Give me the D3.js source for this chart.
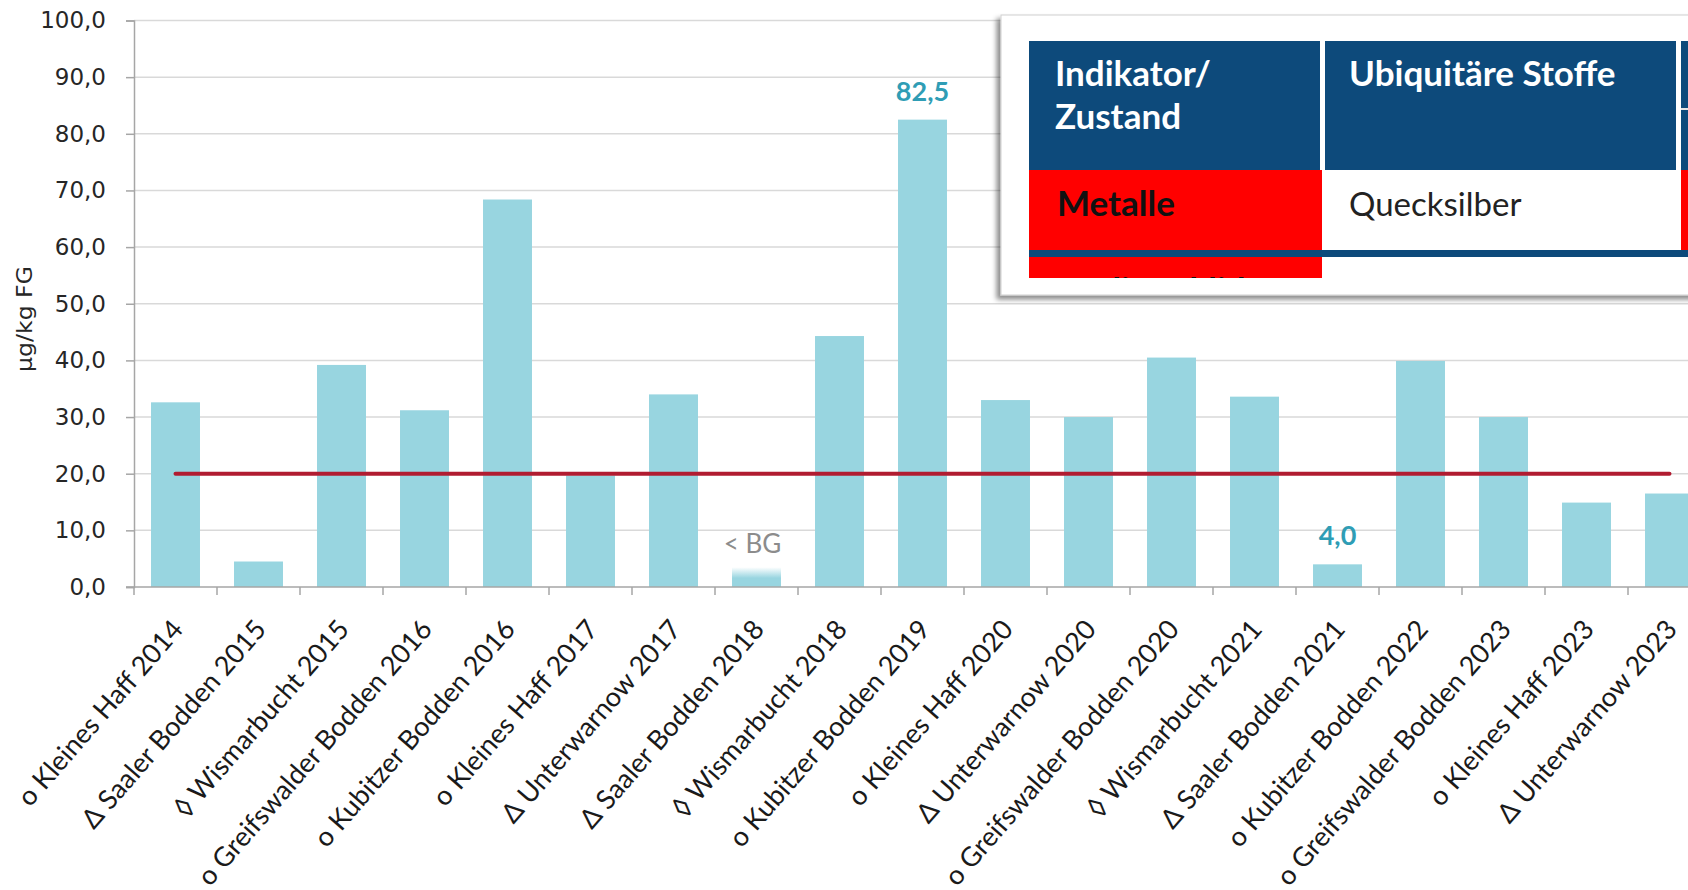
<!DOCTYPE html>
<html>
<head>
<meta charset="utf-8">
<script src="https://cdn.jsdelivr.net/npm/d3@7"></script>
<style>
  body { margin: 0; background: #fff; overflow: hidden; }
  svg { display: block; }
</style>
</head>
<body>
<svg width="1688" height="890"></svg>
<script>
// chart data
var categories = [
  "o Kleines Haff 2014", "\u0394 Saaler Bodden 2015", "\u25CA Wismarbucht 2015",
  "o Greifswalder Bodden 2016", "o Kubitzer Bodden 2016", "o Kleines Haff 2017",
  "\u0394 Unterwarnow 2017", "\u0394 Saaler Bodden 2018", "\u25CA Wismarbucht 2018",
  "o Kubitzer Bodden 2019", "o Kleines Haff 2020", "\u0394 Unterwarnow 2020",
  "o Greifswalder Bodden 2020", "\u25CA Wismarbucht 2021", "\u0394 Saaler Bodden 2021",
  "o Kubitzer Bodden 2022", "o Greifswalder Bodden 2023", "o Kleines Haff 2023",
  "\u0394 Unterwarnow 2023"
];
var values = [32.6, 4.5, 39.2, 31.2, 68.4, 19.7, 34.0, 3.5, 44.3, 82.5,
              33.0, 30.0, 40.5, 33.6, 4.0, 39.9, 30.0, 14.9, 16.5];
var belowBG = [false, false, false, false, false, false, false, true, false, false,
               false, false, false, false, false, false, false, false, false];
var dataLabels = ["", "", "", "", "", "", "", "< BG", "", "82,5",
                  "", "", "", "", "4,0", "", "", "", ""];
var threshold = 20;
var yTicks = [0, 10, 20, 30, 40, 50, 60, 70, 80, 90, 100];
var yTitle = "\u00B5g/kg FG";

// pasted table snippet
var tableHead = [["Indikator/", "Zustand"], ["Ubiquit\u00E4re Stoffe"]];
var tableRow = ["Metalle", "Quecksilber"];
var tableNextRow = ["Radionuklide", "C\u00E4sium-137"];

var svg = d3.select("svg");
var de = d3.formatLocale({decimal: ",", thousands: ".", grouping: [3], currency: ["", " \u20AC"]});
var fmt = de.format(".1f");

var barColor = "#98d5e0";

var x = d3.scaleBand()
    .domain(categories)
    .range([134, 134 + 19 * 83])
    .paddingInner(0.41)
    .paddingOuter(0.205);

var y = d3.scaleLinear()
    .domain([0, 100])
    .range([587, 20.5]);

var defs = svg.append("defs");
var grad = defs.append("linearGradient")
    .attr("id", "bgFade").attr("x1", 0).attr("x2", 0).attr("y1", 0).attr("y2", 1);
grad.append("stop").attr("offset", "0%").attr("stop-color", barColor).attr("stop-opacity", 0);
grad.append("stop").attr("offset", "55%").attr("stop-color", barColor).attr("stop-opacity", 1);
grad.append("stop").attr("offset", "100%").attr("stop-color", barColor).attr("stop-opacity", 1);

var shadow = defs.append("filter").attr("id", "shadow")
    .attr("x", "-10%").attr("y", "-10%").attr("width", "120%").attr("height", "130%");
shadow.append("feDropShadow").attr("dx", -4).attr("dy", 4).attr("stdDeviation", 2.5)
    .attr("flood-color", "#000").attr("flood-opacity", 0.45);

defs.append("clipPath").attr("id", "rowClip")
  .append("rect").attr("x", 1000).attr("y", 257).attr("width", 700).attr("height", 21);

// gridlines
svg.append("g")
  .selectAll("line")
  .data(yTicks.slice(1))
  .enter().append("line")
    .attr("x1", 134).attr("x2", 1688)
    .attr("y1", function(d) { return y(d); })
    .attr("y2", function(d) { return y(d); })
    .attr("stroke", "#d9d9d9")
    .attr("stroke-width", 1.5);

// y axis
var yAxis = svg.append("g")
    .attr("transform", "translate(134,0)")
    .call(d3.axisLeft(y).tickValues(yTicks).tickFormat(fmt).tickSize(8).tickPadding(20));
yAxis.select(".domain").attr("stroke", "#a6a6a6").attr("stroke-width", 1.5);
yAxis.selectAll(".tick line").attr("stroke", "#a6a6a6").attr("stroke-width", 1.5);
yAxis.selectAll("text")
    .attr("font-family", "DejaVu Sans")
    .attr("font-size", 23)
    .attr("fill", "#262626");

svg.append("text")
    .attr("transform", "translate(32,319) scale(1,1.15) rotate(-90)")
    .attr("text-anchor", "middle")
    .attr("font-family", "DejaVu Sans")
    .attr("font-size", 20.5)
    .attr("fill", "#262626")
    .text(yTitle);

// bars
svg.append("g")
  .selectAll("rect")
  .data(values)
  .enter().append("rect")
    .attr("x", function(d, i) { return x(categories[i]); })
    .attr("y", function(d) { return y(d); })
    .attr("width", x.bandwidth())
    .attr("height", function(d) { return y(0) - y(d); })
    .attr("fill", function(d, i) { return belowBG[i] ? "url(#bgFade)" : barColor; });

// x axis line + ticks at band boundaries
svg.append("line")
    .attr("x1", 126).attr("x2", 1688)
    .attr("y1", y(0)).attr("y2", y(0))
    .attr("stroke", "#a6a6a6").attr("stroke-width", 1.5);
svg.append("g")
  .selectAll("line")
  .data(d3.range(categories.length + 1))
  .enter().append("line")
    .attr("x1", function(i) { return x.range()[0] + i * x.step(); })
    .attr("x2", function(i) { return x.range()[0] + i * x.step(); })
    .attr("y1", y(0)).attr("y2", y(0) + 8)
    .attr("stroke", "#a6a6a6").attr("stroke-width", 1.5);

// x labels
svg.append("g")
  .selectAll("text")
  .data(categories)
  .enter().append("text")
    .attr("transform", function(d) {
      return "translate(" + (x(d) + x.bandwidth() / 2 + 2) + "," + (y(0) + 37) + ") rotate(-49)";
    })
    .attr("text-anchor", "end")
    .attr("dy", "0.35em")
    .attr("font-family", "Lato")
    .attr("font-size", 27)
    .attr("fill", "#1a1a1a")
    .text(function(d) { return d; });

// threshold line
svg.append("line")
    .attr("x1", x(categories[0]) + x.bandwidth() / 2)
    .attr("x2", x(categories[categories.length - 1]) + x.bandwidth() / 2)
    .attr("y1", y(threshold)).attr("y2", y(threshold))
    .attr("stroke", "#b11c31")
    .attr("stroke-width", 4)
    .attr("stroke-linecap", "round");

// data labels
var labelled = d3.range(values.length).filter(function(i) { return dataLabels[i] !== ""; });
svg.append("g")
  .selectAll("text")
  .data(labelled)
  .enter().append("text")
    .attr("x", function(i) { return x(categories[i]) + x.bandwidth() / 2 - (belowBG[i] ? 4 : 0); })
    .attr("y", function(i) { return y(values[i]) - (belowBG[i] ? 14 : 19); })
    .attr("text-anchor", "middle")
    .attr("font-family", "Lato")
    .attr("font-size", function(i) { return belowBG[i] ? 26 : 27; })
    .attr("font-weight", function(i) { return belowBG[i] ? "normal" : "bold"; })
    .attr("fill", function(i) { return belowBG[i] ? "#8c8c8c" : "#2f9db5"; })
    .text(function(i) { return dataLabels[i]; });

// inset table picture
var inset = svg.append("g");
inset.append("rect")
    .attr("x", 1001).attr("y", 15).attr("width", 720).attr("height", 280)
    .attr("fill", "#fff").attr("stroke", "#cfcfcf").attr("stroke-width", 1)
    .attr("filter", "url(#shadow)");

var navy = "#0d4a7b";
inset.append("rect").attr("x", 1029).attr("y", 41).attr("width", 291).attr("height", 129).attr("fill", navy);
inset.append("rect").attr("x", 1325).attr("y", 41).attr("width", 351).attr("height", 129).attr("fill", navy);
inset.append("rect").attr("x", 1681).attr("y", 41).attr("width", 40).attr("height", 129).attr("fill", navy);
inset.append("line").attr("x1", 1681).attr("x2", 1721).attr("y1", 109).attr("y2", 109)
    .attr("stroke", "#e6e6e6").attr("stroke-width", 2);

inset.append("rect").attr("x", 1029).attr("y", 170).attr("width", 293).attr("height", 80).attr("fill", "#ff0000");
inset.append("rect").attr("x", 1681).attr("y", 170).attr("width", 40).attr("height", 80).attr("fill", "#ff0000");
inset.append("rect").attr("x", 1029).attr("y", 250).attr("width", 700).attr("height", 7).attr("fill", navy);
inset.append("rect").attr("x", 1029).attr("y", 257).attr("width", 293).attr("height", 21).attr("fill", "#ff0000");

inset.append("g")
  .selectAll("text")
  .data(tableHead[0])
  .enter().append("text")
    .attr("x", 1055)
    .attr("y", function(d, i) { return 86 + i * 43; })
    .attr("font-family", "Lato").attr("font-weight", "bold").attr("font-size", 35)
    .attr("fill", "#fff")
    .text(function(d) { return d; });
inset.append("text")
    .attr("x", 1349).attr("y", 86)
    .attr("font-family", "Lato").attr("font-weight", "bold").attr("font-size", 35)
    .attr("fill", "#fff")
    .text(tableHead[1][0]);

inset.append("text")
    .attr("x", 1057).attr("y", 216)
    .attr("font-family", "Lato").attr("font-weight", "bold").attr("font-size", 35)
    .attr("fill", "#111")
    .text(tableRow[0]);
inset.append("text")
    .attr("x", 1349).attr("y", 216)
    .attr("font-family", "Lato").attr("font-size", 33)
    .attr("fill", "#222")
    .text(tableRow[1]);

// next table row is cut by the picture edge, only glyph tops show
var cut = inset.append("g").attr("clip-path", "url(#rowClip)");
cut.append("text")
    .attr("x", 1061).attr("y", 303)
    .attr("font-family", "Lato").attr("font-weight", "bold").attr("font-size", 35)
    .attr("fill", "#111")
    .text(tableNextRow[0]);
cut.append("text")
    .attr("x", 1351).attr("y", 303)
    .attr("font-family", "Lato").attr("font-size", 33)
    .attr("fill", "#222")
    .text(tableNextRow[1]);
</script>
</body>
</html>
